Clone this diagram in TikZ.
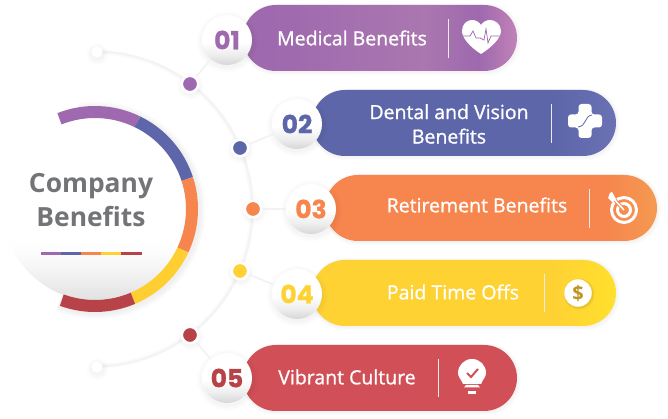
\documentclass[tikz,border=0pt]{standalone}
\usepackage{fontspec}
\setmainfont{Open Sans}
\newfontfamily\numfont{Poppins}[BoldFont=* Bold,BoldFeatures={FakeBold=1}]
\newfontfamily\labfont{Open Sans}[FakeBold=1]
\usetikzlibrary{shapes.misc}
\definecolor{cpur}{HTML}{9E69AE}\definecolor{cpurm}{HTML}{AA77B0}\definecolor{cpurb}{HTML}{C182B8}
\definecolor{cblu}{HTML}{5D66A9}\definecolor{cblub}{HTML}{6A72B4}
\definecolor{cora}{HTML}{F6854E}\definecolor{corab}{HTML}{F59A50}
\definecolor{cyel}{HTML}{FFD234}\definecolor{cyelb}{HTML}{FFE02C}
\definecolor{cred}{HTML}{D14F57}\definecolor{credd}{HTML}{B74348}
\definecolor{gtxt}{HTML}{737477}
\pgfdeclareverticalshading{discshade}{100bp}{color(0bp)=(black!12);color(25bp)=(black!12);color(30bp)=(black!7);color(38bp)=(black!1);color(42bp)=(white);color(100bp)=(white)}
\pgfdeclareverticalshading{badgeshade}{100bp}{color(0bp)=(black!16);color(25bp)=(black!16);color(35bp)=(black!7);color(48bp)=(white);color(100bp)=(white)}
\pgfdeclarehorizontalshading{purshade}{100bp}{color(0bp)=(cpur);color(30bp)=(cpur);color(58bp)=(cpurm);color(68bp)=(cpur);color(75bp)=(cpurb);color(100bp)=(cpurb)}
\pgfdeclarehorizontalshading{blushade}{100bp}{color(0bp)=(cblu);color(65bp)=(cblu);color(75bp)=(cblub);color(100bp)=(cblub)}
\pgfdeclarehorizontalshading{orashade}{100bp}{color(0bp)=(cora);color(67bp)=(cora);color(75bp)=(corab);color(100bp)=(corab)}
\pgfdeclarehorizontalshading{yelshade}{100bp}{color(0bp)=(cyel);color(65bp)=(cyel);color(75bp)=(cyelb);color(100bp)=(cyelb)}
\tikzset{
 pill/.style={rounded rectangle,minimum height=66pt,inner sep=0pt},
 badge/.style={circle,minimum size=50pt,inner sep=0pt,shading=badgeshade,font=\numfont\bfseries\fontsize{25}{25}\selectfont},
 dotn/.style={circle,minimum size=16.5pt,inner sep=0pt,fill=#1,draw=white,line width=2.6pt},
 endn/.style={circle,minimum size=11pt,inner sep=0pt,fill=white},
 conn/.style={draw=black!5,line width=1.6pt},
 lab/.style={text=white,font=\labfont\fontsize{19.5}{24.5}\selectfont,align=center,inner sep=0pt},
 sep/.style={draw=white!85!gray,line width=.9pt},
 ringseg/.style={line width=12pt,draw=#1},
 title/.style={text=gtxt,font=\bfseries\fontsize{26.4}{35}\selectfont,align=center,inner sep=0pt},
}
\newcommand{\softc}[3]{\foreach \k in {1,...,5}{\fill[black,opacity=.007] (#1+.5,#2-2) circle ({#3+\k*1.1});}}
\newcommand{\softp}[4]{\foreach \k in {1,...,4}{\fill[black,opacity=.012,rounded corners=32.9pt] (#1-\k*.2,#2-\k*.9-.5) rectangle (#3+\k*.9,#4+\k*.5-.5);}}
\begin{document}
\begin{tikzpicture}[x=1pt,y=1pt]
\useasboundingbox[fill=white] (0,0) rectangle (668,419);
\coordinate (c) at (95,210);
% big arc
\foreach \k in {1,2,3}{\draw[black,opacity=.006,line width={1.5+\k*1.4pt}] (c) ++(88.5:157) arc[start angle=88.5,end angle=-88.5,radius=157];}
\draw[black!5,line width=1.4pt] (c) ++(88.5:157.5) arc[start angle=88.5,end angle=-88.5,radius=157.5];
% ends
\softc{97}{367}{5.5}\softc{97}{52}{5.5}
\node[endn] (e1) at (97,367) {};
\node[endn] (e2) at (97,52) {};
% pills
\softp{243}{348}{517}{414}\softp{312}{263}{616}{329}\softp{325}{178}{657}{244}\softp{312}{93}{616}{159}\softp{243}{8}{517}{74}
\node[pill,shading=purshade,minimum width=274pt] (p1) at (380,381) {};
\node[pill,shading=blushade,minimum width=304pt] (p2) at (464,296) {};
\node[pill,shading=orashade,minimum width=332pt] (p3) at (491,211) {};
\node[pill,shading=yelshade,minimum width=304pt] (p4) at (464,126) {};
\node[pill,fill=cred,minimum width=274pt] (p5) at (380,41) {};
% badges
\softc{227}{379}{25}\softc{297}{295}{25}\softc{311}{210}{25}\softc{297}{125}{25}\softc{227}{41}{25}
\node[badge,text=cpur] (b1) at (227,379) {01};
\node[badge,text=cblu] (b2) at (297,295) {02};
\node[badge,text=cora] (b3) at (311,210) {03};
\node[badge,text=cyel] (b4) at (297,125) {04};
\node[badge,text=credd] (b5) at (227,41) {05};
% dots
\softc{190}{335}{8}\softc{240}{271}{8}\softc{253}{210}{8}\softc{240}{148}{8}\softc{190}{84}{8}
\node[dotn=cpur] (d1) at (190,335) {};
\node[dotn=cblu] (d2) at (240,271) {};
\node[dotn=cora] (d3) at (253,210) {};
\node[dotn=cyel] (d4) at (240,148) {};
\node[dotn=credd] (d5) at (190,84) {};
\draw[conn] (d1) -- (b1);
\draw[conn] (d2) -- (b2);
\draw[conn] (d3) -- (b3);
\draw[conn] (d4) -- (b4);
\draw[conn] (d5) -- (b5);
% main disc and ring
\foreach \k in {1,...,5}{\draw[black,opacity=.012,line width={12+\k*2.4pt}] (96.5,208.5) ++(100:97) arc[start angle=100,end angle=-112,radius=97];}
\shade[shading=discshade] (c) circle (91.5);
\draw[ringseg=cpur]  (c) ++(111.5:97) arc[start angle=111.5,end angle=64,radius=97];
\draw[ringseg=cblu]  (c) ++(64:97) arc[start angle=64,end angle=18,radius=97];
\draw[ringseg=cora]  (c) ++(18:97) arc[start angle=18,end angle=-25,radius=97];
\draw[ringseg=cyel!95!orange]  (c) ++(-25:97) arc[start angle=-25,end angle=-67,radius=97];
\draw[ringseg=credd] (c) ++(-67:97) arc[start angle=-67,end angle=-110,radius=97];
\node[title] (t) at (91,219) {Company\\[-1pt]Benefits};
\fill[cpur] (41,164) rectangle (61,167);
\fill[cblu] (61,164) rectangle (81,167);
\fill[cora] (81,164) rectangle (101,167);
\fill[cyel] (101,164) rectangle (121,167);
\fill[credd] (121,164) rectangle (142,167);
% labels
\node[lab] (l1) at (352,381) {Medical Benefits};
\node[lab] (l2) at (449,295) {Dental and Vision\\Benefits};
\node[lab] (l3) at (477,214) {Retirement Benefits};
\node[lab] (l4) at (453,127) {Paid Time Offs};
\node[lab] (l5) at (347,42) {Vibrant Culture};
% separators
\draw[sep] (448,361) -- (448,400);
\draw[sep] (551,276) -- (551,315);
\draw[sep] (589,191) -- (589,230);
\draw[sep] (544,107) -- (544,145);
\draw[sep] (438,22) -- (438,60);
% heart
\fill[white] (481,365) .. controls (470,372) and (462,381) .. (462,388) .. controls (462,395) and (467,399) .. (472,399) .. controls (476,399) and (479,397) .. (481,394) .. controls (483,397) and (486,399) .. (490,399) .. controls (495,399) and (501,395) .. (501,388) .. controls (501,381) and (492,372) .. (481,365) -- cycle;
\draw[cpur,line width=.7pt] (463,383) -- (470,383) -- (473,388) -- (476,381) -- (480,381) -- (484,379) -- (486,390) -- (488,376) -- (491,383) -- (500,383);
% cross
\fill[white,rounded corners=3pt] (578.5,281) -- (591.5,281) -- (591.5,291.5) -- (602,291.5) -- (602,304.5) -- (591.5,304.5) -- (591.5,315) -- (578.5,315) -- (578.5,304.5) -- (568,304.5) -- (568,291.5) -- (578.5,291.5) -- cycle;
\draw[cblu,line width=.8pt] (592,304) .. controls (584,303) and (587,293) .. (578,292);
% target
\draw[white,line width=3pt] (624,209) circle (12.5);
\draw[white,line width=3pt] (624,209) circle (6.5);
\draw[cora,line width=3.5pt] (624,209) -- (613,221);
\draw[white,line width=1.6pt] (624,209) -- (612,222);
\fill[white] (608,221) -- (612.5,216.5) -- (616,220) -- (612,227) -- (610,226) -- cycle;
% dollar
\foreach \k in {1,2,3}{\fill[black,opacity=.03] (579,125) circle ({13.5+\k*.7});}
\node[circle,fill=white,minimum size=27.5pt,inner sep=0pt,text=cyel!72!black!88!orange,font=\bfseries\fontsize{20}{20}\selectfont] (i4) at (578,126) {\$};
% bulb
\fill[white] (463,35) -- (481,35) .. controls (483,40) and (486,42) .. (486,46) arc[start angle=0,end angle=180,radius=14] .. controls (458,42) and (461,40) .. (463,35) -- cycle;
\fill[white] (464,31.5) -- (466,34) -- (478,34) -- (480,31.5) -- cycle;
\fill[white] (468,25) rectangle (476,28);
\draw[cred,line width=2pt] (467,46) -- (471,42) -- (478,50);
\end{tikzpicture}
\end{document}
